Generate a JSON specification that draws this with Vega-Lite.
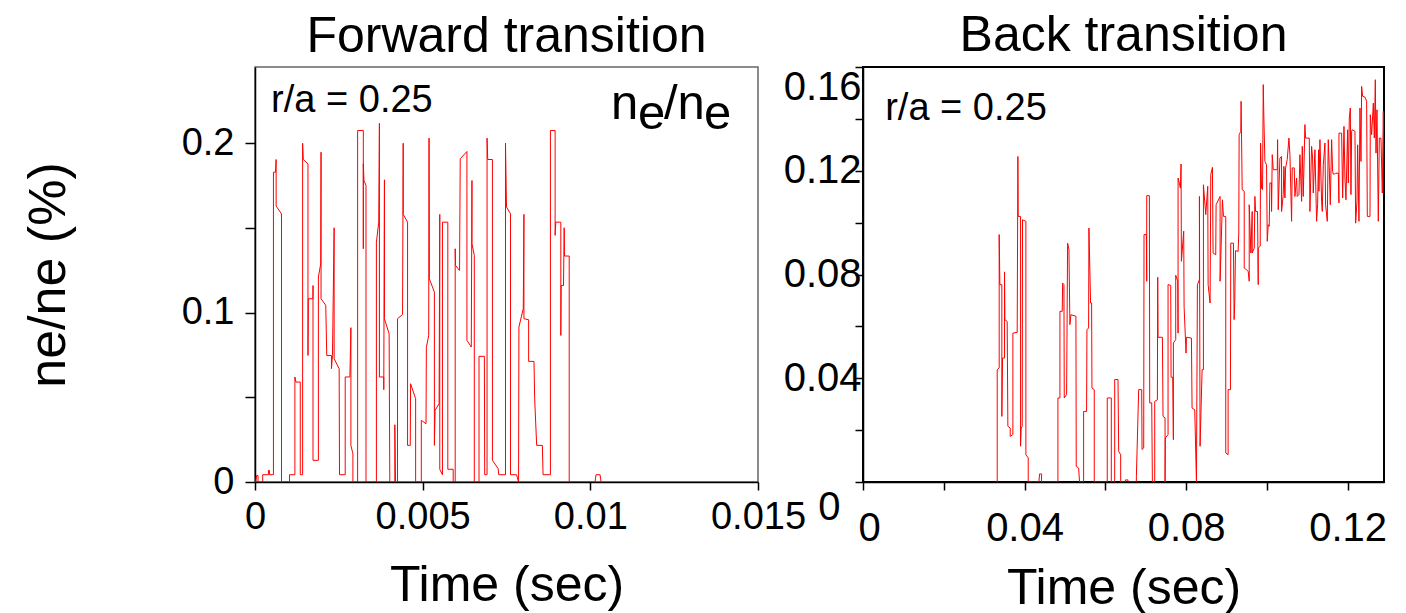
{
 "$schema": "https://vega.github.io/schema/vega-lite/v6.json",
 "background": "white",
 "padding": {"left": 21, "top": 10, "right": 5, "bottom": 0},
 "config": {
  "font": "Liberation Sans",
  "axis": {"grid": false, "domainColor": "black", "tickColor": "black", "labelColor": "black", "titleColor": "black", "labelFont": "Liberation Sans", "titleFont": "Liberation Sans", "labelFontSize": 38, "titleFontSize": 50, "titleFontWeight": "normal", "zindex": 1, "labelFlush": false, "labelOverlap": false, "domainWidth": 1.5, "tickWidth": 1.5},
  "title": {"font": "Liberation Sans", "fontSize": 50, "fontWeight": "normal", "color": "black"}
 },
 "datasets": {
  "fwd": [
   {"t":0,"v":0},{"t":0.00002,"v":0},{"t":0.00005,"v":0.0039},{"t":0.00009,"v":0.0039},{"t":0.00009,"v":0},{"t":0.00023,"v":0},{"t":0.00023,"v":0.0043},{"t":0.0004,"v":0.0043},{"t":0.0004,"v":0.0069},{"t":0.00043,"v":0.0069},{"t":0.00043,"v":0.0043},{"t":0.00055,"v":0.0043},{"t":0.00055,"v":0.1829},{"t":0.00061,"v":0.1829},{"t":0.00063,"v":0.1904},{"t":0.00063,"v":0.1629},{"t":0.00079,"v":0.1583},{"t":0.00079,"v":0},{"t":0.00103,"v":0},{"t":0.00103,"v":0.0043},{"t":0.00119,"v":0.0043},{"t":0.00119,"v":0.062},{"t":0.00122,"v":0.059},{"t":0.00135,"v":0.059},{"t":0.00135,"v":0.0043},{"t":0.00142,"v":0.0043},{"t":0.00142,"v":0.2},{"t":0.00144,"v":0.1904},{"t":0.00158,"v":0.1878},{"t":0.00158,"v":0.0747},{"t":0.00159,"v":0.1082},{"t":0.00173,"v":0.1082},{"t":0.00173,"v":0.116},{"t":0.00173,"v":0.0128},{"t":0.00189,"v":0.0128},{"t":0.00189,"v":0.121},{"t":0.00196,"v":0.1288},{"t":0.00197,"v":0.1947},{"t":0.00197,"v":0.1082},{"t":0.00211,"v":0.1043},{"t":0.00214,"v":0.0747},{"t":0.00228,"v":0.0747},{"t":0.00228,"v":0.0669},{"t":0.00231,"v":0.0747},{"t":0.00236,"v":0.1501},{"t":0.00236,"v":0.0728},{"t":0.00251,"v":0.0669},{"t":0.00252,"v":0.0043},{"t":0.00269,"v":0.0043},{"t":0.00269,"v":0.062},{"t":0.00283,"v":0.062},{"t":0.00286,"v":0.0911},{"t":0.00286,"v":0.0216},{"t":0.00292,"v":0.0167},{"t":0.00292,"v":0},{"t":0.00306,"v":0},{"t":0.00306,"v":0.2075},{"t":0.00323,"v":0.2075},{"t":0.00323,"v":0.1377},{"t":0.00323,"v":0.1878},{"t":0.00325,"v":0.178},{"t":0.00331,"v":0.1751},{"t":0.00331,"v":0},{"t":0.00362,"v":0},{"t":0.00362,"v":0.1416},{"t":0.00369,"v":0.1534},{"t":0.00371,"v":0.2118},{"t":0.00371,"v":0.062},{"t":0.00384,"v":0.062},{"t":0.00384,"v":0.0545},{"t":0.00386,"v":0.1784},{"t":0.00386,"v":0.0964},{"t":0.004,"v":0.0875},{"t":0.00402,"v":0},{"t":0.00417,"v":0},{"t":0.00417,"v":0.0338},{"t":0.00419,"v":0},{"t":0.00425,"v":0},{"t":0.00425,"v":0.0964},{"t":0.0044,"v":0.0989},{"t":0.00442,"v":0.2},{"t":0.00442,"v":0.158},{"t":0.00455,"v":0.1534},{"t":0.00455,"v":0.0216},{"t":0.00463,"v":0.0216},{"t":0.00464,"v":0.058},{"t":0.00479,"v":0.0492},{"t":0.00479,"v":0},{"t":0.00496,"v":0},{"t":0.00496,"v":0.0364},{"t":0.0051,"v":0.0344},{"t":0.00511,"v":0.0793},{"t":0.00518,"v":0.0865},{"t":0.00519,"v":0.203},{"t":0.0052,"v":0.12},{"t":0.00535,"v":0.1121},{"t":0.00535,"v":0.0216},{"t":0.00537,"v":0.0423},{"t":0.00549,"v":0.0462},{"t":0.00551,"v":0.158},{"t":0.00551,"v":0.0075},{"t":0.00559,"v":0.0043},{"t":0.00559,"v":0.1534},{"t":0.00575,"v":0.1534},{"t":0.00575,"v":0.0075},{"t":0.00591,"v":0.0075},{"t":0.00591,"v":0},{"t":0.00597,"v":0},{"t":0.00597,"v":0.1377},{"t":0.00598,"v":0.1279},{"t":0.0061,"v":0.1249},{"t":0.00612,"v":0.1908},{"t":0.00632,"v":0.1951},{"t":0.00632,"v":0.0836},{"t":0.00645,"v":0.0797},{"t":0.00647,"v":0.178},{"t":0.00647,"v":0.1406},{"t":0.00654,"v":0.1338},{"t":0.00654,"v":0},{"t":0.00668,"v":0},{"t":0.00668,"v":0.0742},{"t":0.00684,"v":0.0742},{"t":0.00685,"v":0.0043},{"t":0.00692,"v":0.0043},{"t":0.00692,"v":0.203},{"t":0.00694,"v":0.1904},{"t":0.00708,"v":0.1904},{"t":0.00708,"v":0.0128},{"t":0.00725,"v":0.0079},{"t":0.00727,"v":0.0043},{"t":0.00747,"v":0.0043},{"t":0.00747,"v":0.2},{"t":0.0075,"v":0.1623},{"t":0.00762,"v":0.1583},{"t":0.00762,"v":0.0043},{"t":0.0078,"v":0.0043},{"t":0.00786,"v":0},{"t":0.00787,"v":0.0915},{"t":0.008,"v":0.1023},{"t":0.00802,"v":0.158},{"t":0.00802,"v":0.0964},{"t":0.00816,"v":0.0958},{"t":0.00816,"v":0.0712},{"t":0.00832,"v":0.0712},{"t":0.00834,"v":0.0492},{"t":0.0084,"v":0.0216},{"t":0.00857,"v":0.0216},{"t":0.00859,"v":0.0043},{"t":0.00881,"v":0.0043},{"t":0.00881,"v":0.2075},{"t":0.00895,"v":0.2075},{"t":0.00895,"v":0.1456},{"t":0.00897,"v":0.1534},{"t":0.00912,"v":0.1534},{"t":0.00912,"v":0.0865},{"t":0.00913,"v":0.116},{"t":0.0092,"v":0.116},{"t":0.00922,"v":0.1501},{"t":0.00923,"v":0.1334},{"t":0.00937,"v":0.1334},{"t":0.00937,"v":0},{"t":0.01014,"v":0},{"t":0.01017,"v":0.0043},{"t":0.01029,"v":0.0043},{"t":0.01032,"v":0}
  ],
  "back": [
   {"t":0.03323,"v":0},{"t":0.03323,"v":0.0433},{"t":0.03372,"v":0.044},{"t":0.03372,"v":0.0954},{"t":0.03389,"v":0.0761},{"t":0.03438,"v":0.0761},{"t":0.03438,"v":0.0253},{"t":0.03455,"v":0.0478},{"t":0.03504,"v":0.0478},{"t":0.03504,"v":0.081},{"t":0.03513,"v":0.0626},{"t":0.0357,"v":0.0619},{"t":0.03587,"v":0.0215},{"t":0.03645,"v":0.0208},{"t":0.03645,"v":0.0176},{"t":0.03711,"v":0.0183},{"t":0.03711,"v":0.0574},{"t":0.03818,"v":0.0577},{"t":0.03835,"v":0.1255},{"t":0.03843,"v":0.1024},{"t":0.03901,"v":0.1024},{"t":0.03901,"v":0.0138},{"t":0.03917,"v":0.0208},{"t":0.03942,"v":0.0215},{"t":0.0395,"v":0.1011},{"t":0.04033,"v":0.1005},{"t":0.04033,"v":0.0105},{"t":0.04091,"v":0.0093},{"t":0.04091,"v":0},{"t":0.04355,"v":0},{"t":0.04372,"v":0.0031},{"t":0.04421,"v":0.0031},{"t":0.04421,"v":0},{"t":0.04826,"v":0},{"t":0.04826,"v":0.0324},{"t":0.04876,"v":0.0324},{"t":0.04876,"v":0.0658},{"t":0.04933,"v":0.0658},{"t":0.04942,"v":0.0767},{"t":0.04975,"v":0.0761},{"t":0.04983,"v":0.0324},{"t":0.05041,"v":0.0337},{"t":0.05066,"v":0.0921},{"t":0.05099,"v":0.0896},{"t":0.05123,"v":0.0607},{"t":0.05148,"v":0.0645},{"t":0.05272,"v":0.0639},{"t":0.0528,"v":0.006},{"t":0.05338,"v":0.0054},{"t":0.05363,"v":0},{"t":0.05462,"v":0},{"t":0.05462,"v":0.0272},{"t":0.05536,"v":0.0272},{"t":0.05545,"v":0.0587},{"t":0.05586,"v":0.0594},{"t":0.05594,"v":0.0979},{"t":0.05635,"v":0.069},{"t":0.0566,"v":0.069},{"t":0.05669,"v":0.0362},{"t":0.05726,"v":0.0356},{"t":0.05726,"v":0},{"t":0.06048,"v":0},{"t":0.06048,"v":0.0324},{"t":0.06148,"v":0.0324},{"t":0.06148,"v":0},{"t":0.06232,"v":0},{"t":0.06232,"v":0.0395},{"t":0.06314,"v":0.0395},{"t":0.06331,"v":0.0118},{"t":0.0638,"v":0.0105},{"t":0.0638,"v":0},{"t":0.06496,"v":0},{"t":0.06496,"v":0.0008},{"t":0.06562,"v":0.0008},{"t":0.06562,"v":0},{"t":0.06769,"v":0},{"t":0.06769,"v":0.0022},{"t":0.06826,"v":0.0356},{"t":0.06901,"v":0.0356},{"t":0.06909,"v":0.0125},{"t":0.0695,"v":0.0131},{"t":0.06958,"v":0.0954},{"t":0.07016,"v":0.0954},{"t":0.07025,"v":0.0774},{"t":0.07025,"v":0.1104},{"t":0.07091,"v":0.1104},{"t":0.07099,"v":0.0305},{"t":0.07149,"v":0.0305},{"t":0.07165,"v":0},{"t":0.07223,"v":0},{"t":0.07223,"v":0.0311},{"t":0.07289,"v":0.0317},{"t":0.07297,"v":0.0789},{"t":0.07306,"v":0.0558},{"t":0.07413,"v":0.0558},{"t":0.07429,"v":0.0253},{"t":0.07479,"v":0.0247},{"t":0.07479,"v":0},{"t":0.07487,"v":0.017},{"t":0.07553,"v":0.0183},{"t":0.07553,"v":0.0761},{"t":0.07619,"v":0.0758},{"t":0.07628,"v":0.0404},{"t":0.07669,"v":0.0404},{"t":0.07685,"v":0.0163},{"t":0.07685,"v":0.0536},{"t":0.07743,"v":0.0549},{"t":0.07743,"v":0.0797},{"t":0.07793,"v":0.0774},{"t":0.07801,"v":0.0574},{"t":0.07801,"v":0.1172},{"t":0.07859,"v":0.1133},{"t":0.07875,"v":0.1226},{"t":0.07884,"v":0.0851},{"t":0.07941,"v":0.0967},{"t":0.0795,"v":0.0677},{"t":0.07999,"v":0.0497},{"t":0.08008,"v":0.0558},{"t":0.08132,"v":0.0555},{"t":0.08148,"v":0.0285},{"t":0.08214,"v":0.0279},{"t":0.08256,"v":0},{"t":0.0828,"v":0.0761},{"t":0.0833,"v":0.078},{"t":0.0833,"v":0.1101},{"t":0.08346,"v":0.0138},{"t":0.08396,"v":0.0433},{"t":0.08429,"v":0.0433},{"t":0.08429,"v":0.1146},{"t":0.08487,"v":0.1031},{"t":0.08536,"v":0.114},{"t":0.08545,"v":0.0761},{"t":0.08594,"v":0.069},{"t":0.08611,"v":0.1185},{"t":0.08652,"v":0.1213},{"t":0.08668,"v":0.0883},{"t":0.08734,"v":0.0876},{"t":0.08743,"v":0.1069},{"t":0.08842,"v":0.1101},{"t":0.08842,"v":0.0774},{"t":0.089,"v":0.1088},{"t":0.08925,"v":0.1024},{"t":0.08982,"v":0.1024},{"t":0.08982,"v":0.0112},{"t":0.0904,"v":0.0105},{"t":0.0904,"v":0.0356},{"t":0.09098,"v":0.0356},{"t":0.09106,"v":0.0921},{"t":0.09172,"v":0.0921},{"t":0.09189,"v":0.0626},{"t":0.09205,"v":0.0696},{"t":0.09222,"v":0.0892},{"t":0.09288,"v":0.0889},{"t":0.09304,"v":0.096},{"t":0.09313,"v":0.1339},{"t":0.09354,"v":0.1352},{"t":0.09362,"v":0.1468},
   {"t":0.09389,"v":0.1127},{"t":0.09439,"v":0.1121},{"t":0.09439,"v":0.0825},{"t":0.09488,"v":0.0819},{"t":0.09538,"v":0.0812},{"t":0.09563,"v":0.0774},{"t":0.09563,"v":0.1069},{"t":0.09604,"v":0.0883},{"t":0.09637,"v":0.1043},{"t":0.09637,"v":0.0883},{"t":0.09687,"v":0.0902},{"t":0.09703,"v":0.1101},{"t":0.0972,"v":0.1043},{"t":0.09769,"v":0.1043},{"t":0.09786,"v":0.0761},{"t":0.09786,"v":0.0902},{"t":0.09835,"v":0.0909},{"t":0.09844,"v":0.1307},{"t":0.09868,"v":0.1133},{"t":0.09893,"v":0.1127},{"t":0.0991,"v":0.1532},{"t":0.09926,"v":0.1403},{"t":0.09951,"v":0.1236},{"t":0.09992,"v":0.1223},{"t":0.10009,"v":0.0928},{"t":0.10034,"v":0.0992},{"t":0.10058,"v":0.0986},{"t":0.10075,"v":0.1153},{"t":0.10116,"v":0.1153},{"t":0.10116,"v":0.1043},{"t":0.10133,"v":0.1262},{"t":0.10158,"v":0.1204},{"t":0.10257,"v":0.1204},{"t":0.10265,"v":0.132},{"t":0.10281,"v":0.105},{"t":0.10323,"v":0.1249},{"t":0.10364,"v":0.1255},{"t":0.10364,"v":0.1043},{"t":0.10405,"v":0.1108},{"t":0.10422,"v":0.1217},{"t":0.10447,"v":0.1095},{"t":0.10463,"v":0.1211},{"t":0.10504,"v":0.1243},{"t":0.10546,"v":0.1326},{"t":0.10571,"v":0.1262},{"t":0.10612,"v":0.1005},{"t":0.10628,"v":0.1211},{"t":0.10678,"v":0.1211},{"t":0.10694,"v":0.1101},{"t":0.10736,"v":0.1172},{"t":0.10752,"v":0.1101},{"t":0.10794,"v":0.1108},{"t":0.10818,"v":0.1262},{"t":0.1086,"v":0.1082},{"t":0.10876,"v":0.1294},{"t":0.10901,"v":0.1101},{"t":0.10942,"v":0.1378},{"t":0.10959,"v":0.1326},{"t":0.1105,"v":0.1326},{"t":0.11066,"v":0.1043},{"t":0.11107,"v":0.1294},{"t":0.11132,"v":0.1249},{"t":0.11149,"v":0.1114},{"t":0.1119,"v":0.1281},{"t":0.11231,"v":0.1005},{"t":0.11256,"v":0.1069},{"t":0.11281,"v":0.1281},{"t":0.11289,"v":0.1121},{"t":0.11314,"v":0.132},{"t":0.11355,"v":0.1082},{"t":0.11372,"v":0.1043},{"t":0.11397,"v":0.1223},{"t":0.11438,"v":0.1307},{"t":0.11454,"v":0.1069},{"t":0.11496,"v":0.1005},{"t":0.1152,"v":0.132},{"t":0.11545,"v":0.1211},{"t":0.1157,"v":0.1069},{"t":0.11603,"v":0.132},{"t":0.11628,"v":0.1198},{"t":0.11644,"v":0.1187},{"t":0.11669,"v":0.1187},{"t":0.11702,"v":0.119},{"t":0.11768,"v":0.1191},{"t":0.11785,"v":0.1076},{"t":0.11785,"v":0.1345},{"t":0.11851,"v":0.1345},{"t":0.11876,"v":0.1095},{"t":0.11909,"v":0.1371},{"t":0.11933,"v":0.1172},{"t":0.11958,"v":0.1088},{"t":0.11999,"v":0.1358},{"t":0.12016,"v":0.1153},{"t":0.12041,"v":0.1403},{"t":0.12066,"v":0.1442},{"t":0.12082,"v":0.1108},{"t":0.12099,"v":0.1352},{"t":0.12115,"v":0.1358},{"t":0.12181,"v":0.1352},{"t":0.12198,"v":0.0998},{"t":0.12231,"v":0.1082},{"t":0.12247,"v":0.13},{"t":0.1228,"v":0.1005},{"t":0.12305,"v":0.1442},{"t":0.1233,"v":0.1236},{"t":0.12346,"v":0.1525},{"t":0.12371,"v":0.1487},{"t":0.12429,"v":0.1484},{"t":0.1247,"v":0.1468},{"t":0.12487,"v":0.1024},{"t":0.12553,"v":0.1024},{"t":0.12561,"v":0.1416},{"t":0.12594,"v":0.1339},{"t":0.12636,"v":0.1461},{"t":0.1266,"v":0.1326},{"t":0.12685,"v":0.1551},{"t":0.12702,"v":0.1268},{"t":0.12726,"v":0.1435},{"t":0.12759,"v":0.1005},{"t":0.12784,"v":0.1326},{"t":0.12825,"v":0.1326},{"t":0.12858,"v":0.1114},{"t":0.12883,"v":0.1429},{"t":0.12908,"v":0.1108}
  ]
 },
 "bounds": "flush",
 "spacing": 105,
 "hconcat": [
  {
   "width": 503, "height": 415,
   "view": {"stroke": "#666", "strokeWidth": 1.5},
   "title": {"text": "Forward transition", "offset": 5},
   "layer": [
    {
     "data": {"name": "fwd"},
     "mark": {"type": "line", "color": "#ff0000", "strokeWidth": 1, "clip": true},
     "encoding": {
      "x": {"field": "t", "type": "quantitative", "scale": {"domain": [0, 0.015], "nice": false, "zero": false},
            "axis": {"values": [0, 0.005, 0.01, 0.015], "format": "~g", "title": "Time (sec)", "tickSize": 8, "labelPadding": 8, "titlePadding": 24}},
      "y": {"field": "v", "type": "quantitative", "scale": {"domain": [0, 0.245], "nice": false},
            "axis": {"values": [0, 0.05, 0.1, 0.15, 0.2], "labelExpr": "round(datum.value*1000) % 100 == 0 ? format(datum.value, '~g') : ''", "title": "ne/ne (%)", "titleFontSize": 52, "tickSize": 10, "labelPadding": 11, "titlePadding": 106}},
      "order": {"value": null}
     }
    },
    {
     "data": {"values": [{}]},
     "mark": {"type": "text", "fontSize": 38, "align": "left", "baseline": "alphabetic", "color": "black"},
     "encoding": {"x": {"datum": 0.00048}, "y": {"datum": 0.2183}, "text": {"value": "r/a = 0.25"}}
    },
    {
     "data": {"values": [{}]},
     "mark": {"type": "text", "fontSize": 49, "align": "left", "baseline": "alphabetic", "color": "black"},
     "encoding": {"x": {"datum": 0.010616}, "y": {"datum": 0.2142}, "text": {"value": "n"}}
    },
    {
     "data": {"values": [{}]},
     "mark": {"type": "text", "fontSize": 49, "align": "left", "baseline": "alphabetic", "color": "black"},
     "encoding": {"x": {"datum": 0.011422}, "y": {"datum": 0.2083}, "text": {"value": "e"}}
    },
    {
     "data": {"values": [{}]},
     "mark": {"type": "text", "fontSize": 49, "align": "left", "baseline": "alphabetic", "color": "black"},
     "encoding": {"x": {"datum": 0.012197}, "y": {"datum": 0.2142}, "text": {"value": "/n"}}
    },
    {
     "data": {"values": [{}]},
     "mark": {"type": "text", "fontSize": 49, "align": "left", "baseline": "alphabetic", "color": "black"},
     "encoding": {"x": {"datum": 0.01339}, "y": {"datum": 0.2083}, "text": {"value": "e"}}
    }
   ]
  },
  {
   "width": 521, "height": 415,
   "view": {"stroke": "black", "strokeWidth": 2},
   "title": {"text": "Back transition", "offset": 5},
   "layer": [
    {
     "data": {"name": "back"},
     "mark": {"type": "line", "color": "#ff0000", "strokeWidth": 1, "clip": true},
     "encoding": {
      "x": {"field": "t", "type": "quantitative", "scale": {"domain": [0, 0.129], "nice": false, "zero": false},
            "axis": {"values": [0, 0.02, 0.04, 0.06, 0.08, 0.1, 0.12], "labelExpr": "round(datum.value*100) % 4 == 0 ? format(datum.value, '~g') : ''", "title": "Time (sec)", "tickSize": 8, "labelPadding": 18, "labelFontSize": 40, "titlePadding": 15,
                     "labelOffset": {"condition": {"test": "datum.value == 0", "value": 6}, "value": 0}}},
      "y": {"field": "v", "type": "quantitative", "scale": {"domain": [0, 0.16], "nice": false},
            "axis": {"values": [0, 0.005, 0.01, 0.015, 0.02, 0.025, 0.03, 0.035, 0.04, 0.045, 0.05, 0.055, 0.06, 0.065, 0.07, 0.075, 0.08, 0.085, 0.09, 0.095, 0.1, 0.105, 0.11, 0.115, 0.12, 0.125, 0.13, 0.135, 0.14, 0.145, 0.15, 0.155, 0.16],
                     "labelExpr": "round(datum.value*1000) % 40 == 0 ? format(datum.value, '~g') : ''",
                     "labelFontSize": 40,
                     "tickSize": {"condition": {"test": "round(datum.value*1000) % 20 == 0", "value": 8}, "value": 4},
                     "labelPadding": {"condition": {"test": "datum.value == 0", "value": 15}, "value": -6},
                     "labelOffset": {"condition": {"test": "datum.value == 0", "value": 25}, "value": 0},
                     "labelBaseline": {"condition": {"test": "datum.value > 0.155", "value": "top"}, "value": "middle"},
                     "title": null}},
      "order": {"value": null}
     }
    },
    {
     "data": {"values": [{}]},
     "mark": {"type": "text", "fontSize": 38, "align": "left", "baseline": "alphabetic", "color": "black"},
     "encoding": {"x": {"datum": 0.0055}, "y": {"datum": 0.1396}, "text": {"value": "r/a = 0.25"}}
    }
   ]
  }
 ]
}
